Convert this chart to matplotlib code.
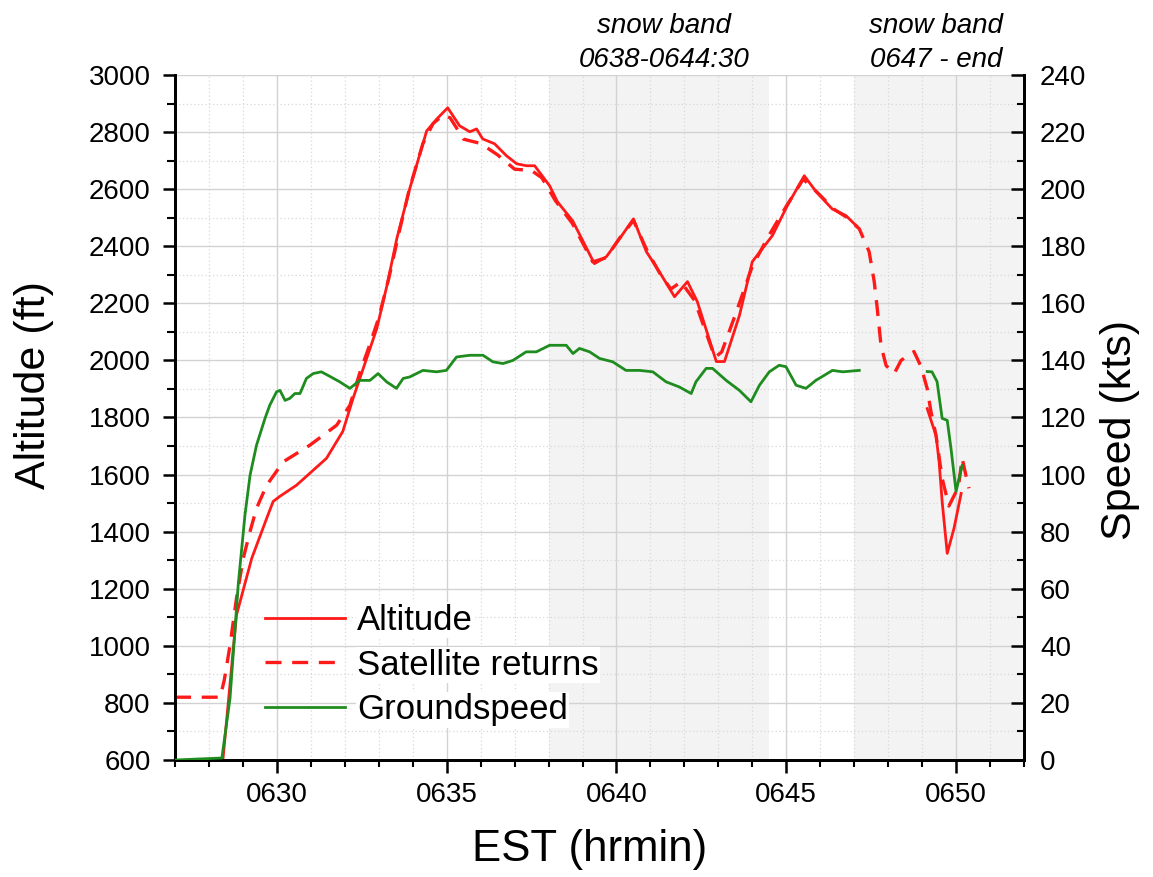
import numpy as np
import matplotlib
matplotlib.use("Agg")
import matplotlib.pyplot as plt
from matplotlib.ticker import MultipleLocator, FuncFormatter

plt.rcParams["font.family"] = ["Liberation Sans", "DejaVu Sans"]

# time axis: EST as hhmm with decimal minutes (628.5 = 06:28:30)
alt_time = [628.41, 628.81, 629.26, 629.70, 629.89, 630.09, 630.58, 630.87, 631.46, 631.94,
            632.24, 632.54, 632.94, 633.24, 633.53, 633.91, 634.41, 634.71, 635.03, 635.38,
            635.68, 635.88, 636.06, 636.41, 636.76, 637.06, 637.35, 637.59, 638.03, 638.26,
            638.71, 639.35, 639.70, 640.09, 640.50, 640.88, 641.26, 641.71, 642.09, 642.38,
            642.94, 643.18, 643.62, 644.00, 644.59, 645.03, 645.53, 645.88, 646.35, 646.76,
            647.06, np.nan,
            649.15, 649.41, 649.50, 649.59, 649.74, 649.94, 650.15]
alt_ft = [600, 1108, 1307, 1447, 1506, 1524, 1563, 1594, 1657, 1751,
          1866, 1971, 2111, 2262, 2426, 2601, 2804, 2846, 2885, 2822,
          2801, 2811, 2776, 2759, 2717, 2689, 2682, 2682, 2612, 2556,
          2489, 2339, 2363, 2426, 2496, 2381, 2311, 2223, 2276, 2206,
          1996, 1996, 2157, 2346, 2437, 2542, 2647, 2591, 2531, 2507,
          2472, np.nan,
          1831, 1737, 1646, 1506, 1324, 1412, 1534]

sat_time = [627.0, 628.33, 628.45, 628.62, 628.81, 629.01, 629.21, 629.40, 629.70, 630.19,
            630.97, 631.76, 632.15, 632.45, 632.75, 633.00, 633.30, 633.60, 633.90, 634.30,
            634.60, 634.90, 635.10, 635.50, 636.00, 636.50, 637.00, 637.50, 637.80, 638.20,
            638.70, 639.30, 639.70, 640.10, 640.50, 640.90, 641.30, 641.60, 641.90, 642.30,
            642.90, 643.10, 643.50, 644.00, 644.50, 645.00, 645.50, 645.90, 646.40, 646.80,
            647.15, 647.44, 647.59, 647.68, 647.79, 647.94, 648.18, 648.38, 648.76, 648.97,
            649.15, 649.26, 649.41, 649.59, 649.79, 650.00, 650.09, 650.18, 650.29, 650.38]
sat_ft = [820, 820, 880, 1002, 1167, 1307, 1401, 1482, 1563, 1645,
          1703, 1773, 1843, 1960, 2060, 2150, 2290, 2450, 2600, 2760,
          2830, 2860, 2850, 2775, 2760, 2720, 2670, 2665, 2640, 2560,
          2480, 2345, 2360, 2430, 2490, 2385, 2300, 2250, 2275, 2210,
          2010, 2030, 2160, 2330, 2440, 2540, 2635, 2590, 2530, 2500,
          2461, 2381, 2276, 2181, 2052, 1982, 1954, 2000, 2031, 1978,
          1901, 1821, 1737, 1587, 1490, 1540, 1576, 1657, 1597, 1552]

gs_time = [627.0, 628.38, 628.62, 628.86, 629.06, 629.21, 629.40, 629.65, 629.79, 629.99,
           630.09, 630.24, 630.38, 630.53, 630.68, 630.87, 631.07, 631.31, 631.56, 631.85,
           632.15, 632.44, 632.74, 632.98, 633.23, 633.52, 633.72, 633.91, 634.30, 634.70,
           634.99, 635.29, 635.68, 636.07, 636.36, 636.66, 636.95, 637.34, 637.64, 638.03,
           638.52, 638.72, 638.91, 639.21, 639.50, 639.89, 640.28, 640.68, 641.07, 641.46,
           641.85, 642.20, 642.34, 642.64, 642.83, 643.23, 643.62, 643.96, 644.21, 644.50,
           644.79, 644.99, 645.29, 645.58, 645.87, 646.36, 646.66, 647.15, np.nan,
           649.15, 649.29, 649.44, 649.59, 649.74, 649.85, 650.00, 650.09, 650.18]
gs_kts = [0, 0.7, 21.7, 61.3, 85.9, 99.8, 110.3, 119.7, 124.3, 129.0,
          129.5, 126.0, 126.7, 128.4, 128.4, 133.7, 135.4, 136.0, 134.4, 132.5,
          130.2, 133.0, 133.0, 135.4, 132.5, 130.2, 133.7, 134.2, 136.5, 136.0,
          136.5, 141.2, 141.8, 141.8, 139.5, 138.9, 140.0, 143.0, 143.0, 145.3,
          145.3, 142.4, 144.2, 143.0, 140.7, 139.5, 136.5, 136.5, 136.0, 132.5,
          130.7, 128.4, 132.5, 137.2, 137.2, 133.0, 129.5, 125.5, 131.3, 136.0,
          138.3, 137.8, 131.3, 130.2, 133.0, 136.5, 136.0, 136.5, np.nan,
          136.1, 136.0, 132.6, 119.7, 119.0, 109.2, 94.1, 98.7, 103.2]

snow_bands = [(638.0, 644.5), (647.0, 652.0)]
band_labels = ["snow band\n0638-0644:30", "snow band\n0647 - end"]
band_label_x = [641.4, 649.4]

fig = plt.figure(figsize=(11.53, 8.77), dpi=100)
ax = fig.add_axes([0.1518, 0.1334, 0.7363, 0.7811])
ax2 = ax.twinx()

for x0, x1 in snow_bands:
    ax.axvspan(x0, x1, color="#f3f3f3", lw=0, zorder=0)

l1, = ax.plot(alt_time, alt_ft, color="#ff1a1a", lw=2.0, zorder=3, label="Altitude")
l2, = ax.plot(sat_time, sat_ft, color="#ff1a1a", lw=2.4, dashes=(4.8, 3.2), zorder=3,
              label="Satellite returns")
l3, = ax2.plot(gs_time, gs_kts, color="#1e8c1e", lw=2.0, zorder=3, label="Groundspeed")

ax.set_xlim(627, 652)
ax.set_ylim(600, 3000)
ax2.set_ylim(0, 240)

ax.xaxis.set_major_locator(MultipleLocator(5))
ax.xaxis.set_minor_locator(MultipleLocator(1))
ax.xaxis.set_major_formatter(FuncFormatter(lambda v, p: f"{int(round(v)):04d}"))
ax.yaxis.set_major_locator(MultipleLocator(200))
ax.yaxis.set_minor_locator(MultipleLocator(100))
ax2.yaxis.set_major_locator(MultipleLocator(20))
ax2.yaxis.set_minor_locator(MultipleLocator(10))

ax.grid(which="major", color="#d2d2d2", lw=1.0, ls="-", zorder=1)
ax.grid(which="minor", color="#d8d8d8", lw=0.9, ls=(0, (1, 2)), zorder=1)
ax.set_axisbelow(True)

for a in (ax, ax2):
    a.spines["top"].set_visible(False)
    for s in ("left", "right", "bottom"):
        a.spines[s].set_linewidth(2)

ax.tick_params(axis="both", which="major", labelsize=20, width=1.8, length=9, direction="out")
ax.tick_params(axis="both", which="minor", width=1.5, length=5, direction="out")
ax.tick_params(axis="x", which="major", pad=7)
ax.tick_params(axis="y", which="major", pad=8.5)
ax.tick_params(axis="y", which="minor", length=6)
ax2.tick_params(axis="y", which="major", labelsize=20, width=1.8, length=9.5, direction="in", pad=11.5)
ax2.tick_params(axis="y", which="minor", width=1.5, length=5, direction="in")

ax.set_xlabel("EST (hrmin)", fontsize=31.5)
ax.set_ylabel("Altitude (ft)", fontsize=31)
ax2.set_ylabel("Speed (kts)", fontsize=31)
ax.xaxis.set_label_coords(0.488, -0.1)
ax.yaxis.set_label_coords(-0.142, 0.547)
ax2.yaxis.set_label_coords(1.089, 0.482)

for xt, txt in zip(band_label_x, band_labels):
    ax.text(xt, 1.003, txt, transform=ax.get_xaxis_transform(), ha="center", va="bottom",
            fontsize=20, style="italic", linespacing=1.4)

leg = ax.legend(handles=[l1, l2, l3], loc="upper left", bbox_to_anchor=(0.106, 0.228),
                frameon=False, fontsize=25, handlelength=2.3, handletextpad=0.35,
                labelspacing=0.34, borderaxespad=0, borderpad=0)
for t in leg.get_texts():
    t.set_bbox(dict(facecolor="white", edgecolor="none", pad=1))
leg.set_zorder(5)

fig.savefig("out.png", dpi=100)
